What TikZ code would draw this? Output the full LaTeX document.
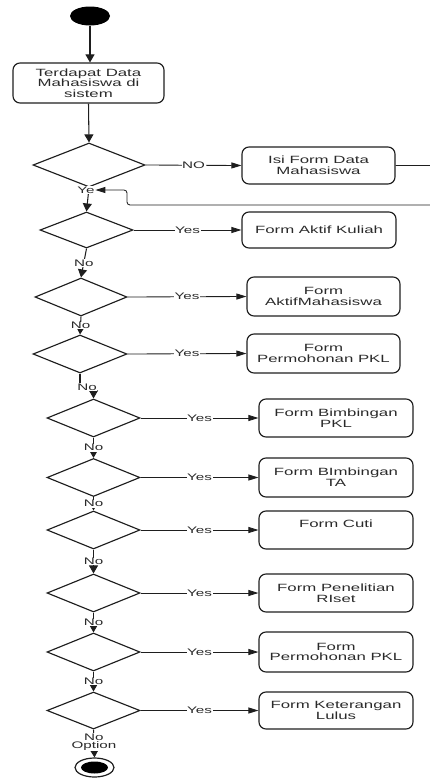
\documentclass[tikz,border=0pt]{standalone}
\usepackage{fontspec}
\newfontfamily\dfont[FakeStretch=1.6]{Liberation Sans}
\usetikzlibrary{arrows.meta,shapes.geometric}
\definecolor{ink}{HTML}{1E1E1E}
\definecolor{txt}{HTML}{2A2A2A}
\begin{document}
\begin{tikzpicture}[x=1pt,y=-1pt,
  act/.style={draw=ink, line width=1.15pt, rounded corners=7pt, inner sep=1pt,
    align=center, text=txt, font=\dfont\fontsize{10.5}{10.7}\selectfont,
    minimum width=154pt, minimum height=38pt},
  dec/.style={draw=ink, line width=1.15pt, diamond, inner sep=0pt,
    minimum width=93pt, minimum height=38pt},
  flow/.style={draw=ink, line width=1.05pt, -{Triangle[length=8pt,width=9pt]}},
  hflow/.style={draw=ink, line width=0.85pt, -{Triangle[length=10pt,width=6pt]}},
  lab/.style={fill=white, inner sep=0.6pt, text=txt, align=center,
    font=\dfont\fontsize{9.5}{8.6}\selectfont}]
\useasboundingbox (0,0) rectangle (430,782);
% start and first activity
\node[fill=black, ellipse, inner sep=0pt, minimum width=40pt, minimum height=19pt] (start) at (90,16) {};
\node[act, minimum width=151pt, minimum height=40pt] (b0) at (88.5,83) {Terdapat Data\\Mahasiswa di\\sistem};
% decisions
\node[dec, minimum width=112pt, minimum height=44pt] (d1) at (89,165) {};
\node[dec, minimum height=36pt] (d2) at (86.5,230) {};
\node[dec, minimum width=92pt] (d3) at (81,297) {};
\node[dec, minimum width=94pt] (d4) at (80,354) {};
\node[dec] (d5) at (93.5,418) {};
\node[dec] (d6) at (93.5,477.5) {};
\node[dec] (d7) at (93.5,530) {};
\node[dec] (d8) at (93.5,593) {};
\node[dec] (d9) at (93.5,652) {};
\node[dec, minimum height=37pt] (d10) at (93.5,710.5) {};
% activities on the right
\node[act, minimum width=153pt, minimum height=37pt] (isi) at (318.5,165.5) {Isi Form Data\\Mahasiswa};
\node[act, minimum height=36pt] (b2) at (319,230) {Form Aktif Kuliah};
\node[act, minimum width=153pt, minimum height=39pt] (b3) at (323.5,296.5) {Form\\AktifMahasiswa};
\node[act, minimum width=153pt, minimum height=39pt] (b4) at (323.5,353.5) {Form\\Permohonan PKL};
\node[act] (b5) at (336,418) {Form Bimbingan\\PKL};
\node[act, minimum height=39pt] (b6) at (336,477.5) {Form BImbingan\\TA};
\node[act] (b7) at (336,530) {Form Cuti\\[1pt]};
\node[act] (b8) at (336,593) {Form Penelitian\\RIset};
\node[act, minimum height=40pt] (b9) at (336,652) {Form\\Permohonan PKL};
\node[act, minimum height=37pt] (b10) at (336,710.5) {Form Keterangan\\Lulus};
% end node
\node[draw=ink, line width=1.2pt, fill=white, ellipse, inner sep=0pt, minimum width=39pt, minimum height=19pt] (endc) at (94.5,767.5) {};
\node[fill=black, ellipse, inner sep=0pt, minimum width=27pt, minimum height=12pt] (endin) at (endc) {};
% main vertical flow
\draw[flow] (start.south) -- (start.south |- b0.north);
\draw[flow] (b0.south) -- (d1.north);
\draw[flow] (d1.south) -- (d2.north);
\node[lab] (ye) at (86,190) {Ye};
\draw[flow] (d2.south) -- node[lab]{No} (d3.north);
\draw[flow] (d3.south) -- node[lab]{No} (d4.north);
\draw[flow] (d4.south) -- ++(0,13) -| (d5.north);
\node[lab] (n45) at (87,387) {No};
\draw[flow] (d5.south) -- node[lab]{No} (d6.north);
\draw[flow] (d6.south) -- node[lab]{No} (d7.north);
\draw[flow] (d7.south) -- node[lab]{No} (d8.north);
\draw[flow] (d8.south) -- node[lab]{No} (d9.north);
\draw[flow] (d9.south) -- node[lab]{No} (d10.north);
\draw[flow] (d10.south) -- node[lab, pos=0.45]{No\\Option} (endc.north);
% branches
\draw[hflow] (d1.east) -- node[lab]{NO} (isi.west);
\draw[hflow] (d2.east) -- node[lab]{Yes} (b2.west);
\draw[hflow] (d3.east) -- node[lab]{Yes} (b3.west);
\draw[hflow] (d4.east) -- node[lab]{Yes} (b4.west);
\draw[hflow] (d5.east) -- node[lab]{Yes} (b5.west);
\draw[hflow] (d6.east) -- node[lab]{Yes} (b6.west);
\draw[hflow] (d7.east) -- node[lab]{Yes} (b7.west);
\draw[hflow] (d8.east) -- node[lab]{Yes} (b8.west);
\draw[hflow] (d9.east) -- node[lab]{Yes} (b9.west);
\draw[hflow] (d10.east) -- node[lab]{Yes} (b10.west);
% loop back from Isi Form Data Mahasiswa
\coordinate (lp1) at (433,165.5);
\coordinate (lp2) at (433,205);
\coordinate (lp3) at (127,205);
\coordinate (lp4) at (127,190);
\draw[hflow, rounded corners=3pt] (isi.east) -- (lp1) -- (lp2) -- (lp3) -- (lp4) -- (ye.east);
\end{tikzpicture}
\end{document}
